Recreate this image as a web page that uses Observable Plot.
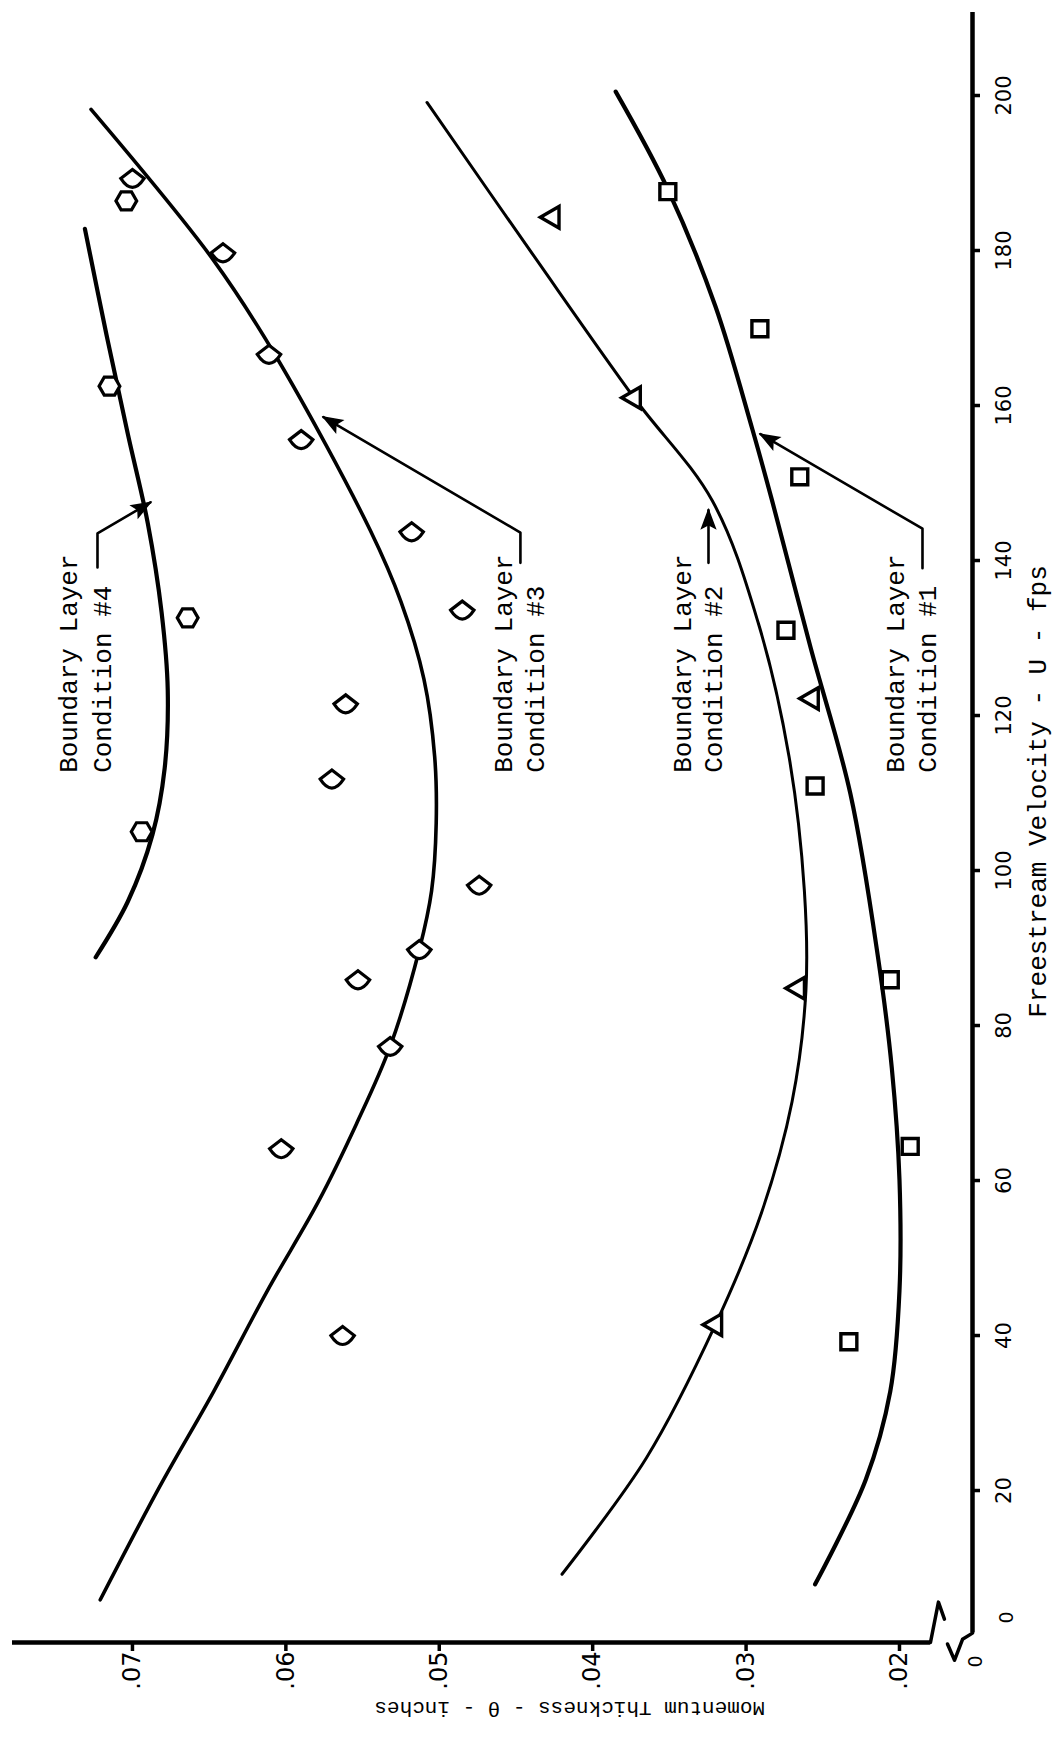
<!DOCTYPE html>
<html>
<head>
<meta charset="utf-8">
<script src="https://cdn.jsdelivr.net/npm/d3@7"></script>
<script src="https://cdn.jsdelivr.net/npm/@observablehq/plot@0.6"></script>
<style>
html,body{margin:0;padding:0;background:#fff;}
#chart svg{display:block;}
</style>
</head>
<body>
<div id="chart"></div>
<script>
// ---------------- data ----------------
const velocityTicks = [0, 20, 40, 60, 80, 100, 120, 140, 160, 180, 200];
const velocityTickLabels = ["0", "20", "40", "60", "80", "100", "120", "140", "160", "180", "200"];
const thicknessTicks = [0.02, 0.03, 0.04, 0.05, 0.06, 0.07];
const thicknessTickLabels = [".02", ".03", ".04", ".05", ".06", ".07"];

// measured points (U in fps, theta in inches)
const cond1U = [187.6, 169.9, 150.8, 131.0, 110.9, 85.9, 64.4, 39.2];
const cond1Theta = [0.0351, 0.0291, 0.0265, 0.0274, 0.0255, 0.0206, 0.0193, 0.0233];
const cond2U = [184.3, 161.0, 122.2, 84.8, 41.4];
const cond2Theta = [0.0426, 0.0373, 0.0257, 0.0266, 0.0320];
const cond3U = [189.3, 179.7, 166.6, 155.6, 143.7, 133.6, 121.5, 111.8, 98.1, 89.8, 85.9, 77.3, 64.1, 40.0];
const cond3Theta = [0.0700, 0.0641, 0.0611, 0.0590, 0.0518, 0.0485, 0.0561, 0.0570, 0.0474, 0.0513, 0.0553, 0.0532, 0.0603, 0.0563];
const cond4U = [186.4, 162.5, 132.6, 105.0];
const cond4Theta = [0.0704, 0.0715, 0.0664, 0.0694];

// faired curves
const fit1U = [200.5, 187.9, 172.8, 157.0, 147.7, 128.8, 109.9, 88.8, 74.5, 60.1, 45.8, 32.8, 21.4, 7.9];
const fit1Theta = [0.0385, 0.0351, 0.0320, 0.0296, 0.0283, 0.0258, 0.0232, 0.0214, 0.0205, 0.0200, 0.0200, 0.0206, 0.0222, 0.0255];
const fit2U = [199.1, 179.2, 161.0, 147.7, 131.9, 114.7, 97.4, 84.5, 70.2, 55.8, 41.4, 24.2, 9.2];
const fit2Theta = [0.0508, 0.0438, 0.0373, 0.0322, 0.0292, 0.0272, 0.0262, 0.0261, 0.0270, 0.0290, 0.0320, 0.0365, 0.0420];
const fit3U = [198.2, 178.7, 166.2, 143.9, 134.7, 124.7, 114.7, 106.1, 97.4, 89.8, 77.3, 67.3, 57.2, 45.8, 32.8, 20.6, 5.9];
const fit3Theta = [0.0727, 0.0647, 0.0606, 0.0545, 0.0525, 0.0510, 0.0503, 0.0502, 0.0505, 0.0513, 0.0532, 0.0554, 0.0579, 0.0612, 0.0647, 0.0682, 0.0721];
const fit4U = [182.8, 169.2, 156.3, 144.8, 133.3, 123.3, 113.2, 104.6, 96.0, 88.8];
const fit4Theta = [0.0731, 0.0717, 0.0703, 0.0690, 0.0681, 0.0677, 0.0679, 0.0687, 0.0703, 0.0724];

// annotations
const labelLine1 = ["Boundary Layer", "Boundary Layer", "Boundary Layer", "Boundary Layer"];
const labelLine2 = ["Condition #1", "Condition #2", "Condition #3", "Condition #4"];
const labelLine1Theta = [0.02026, 0.03415, 0.04581, 0.07417];
const labelLine2Theta = [0.01818, 0.03212, 0.04373, 0.07196];
const labelStartU = [112.6, 112.6, 112.6, 112.6];
// leader polylines (theta, U), arrow head at the last point
const leader1Theta = [0.01850, 0.01850, 0.02906], leader1U = [139.0, 144.1, 156.3];
const leader2Theta = [0.03245, 0.03245], leader2U = [139.7, 146.5];
const leader3Theta = [0.04471, 0.04471, 0.05755], leader3U = [139.7, 143.6, 158.5];
const leader4Theta = [0.07228, 0.07228, 0.06883], leader4U = [139.1, 143.5, 147.5];

const xTitle = "Freestream Velocity - U - fps";
const yTitle = "Momentum Thickness - \u03B8 - inches";

// axis break glyphs (theta, U)
const breakHTheta = [0.01798, 0.01746, 0.01707], breakHU = [0.39, 5.6, 3.4];
const breakVTheta = [0.01524, 0.01589, 0.01641, 0.01687], breakVU = [1.6, 0.8, -1.9, 0.2];

// ---------------- chart ----------------
const W = 1059, H = 1745;
const mL = 12, mR = 87, mT = 12, mB = 103;
const thetaLeft = 0.07782, thetaAxis = 0.01524;
const uBottom = 0.39, uTop = 210.71;
const pxTheta = (thetaLeft - thetaAxis) / (W - mL - mR);
const pxU = (uTop - uBottom) / (H - mT - mB);

const pts = (U, T) => U.map((u, i) => ({U: u, T: T[i]}));

const shield = {
  draw(ctx, size) {
    const r = Math.sqrt(size / Math.PI);
    ctx.moveTo(-1.3 * r, 0);
    ctx.lineTo(0, -r);
    ctx.lineTo(1.3 * r, 0);
    ctx.quadraticCurveTo(0, 2 * r, -1.3 * r, 0);
    ctx.closePath();
  }
};
const arrowHead = {
  draw(ctx, size) {
    const r = Math.sqrt(size / Math.PI);
    ctx.moveTo(0, 0);
    ctx.lineTo(-2 * r, -0.75 * r);
    ctx.lineTo(-1.6 * r, 0);
    ctx.lineTo(-2 * r, 0.75 * r);
    ctx.closePath();
  }
};

const mono = "Liberation Mono, DejaVu Sans Mono, monospace";
const sans = "DejaVu Sans, Liberation Sans, sans-serif";

const labelRows = [];
labelLine1.forEach((t, i) => {
  labelRows.push({T: labelLine1Theta[i], U: labelStartU[i], text: t});
  labelRows.push({T: labelLine2Theta[i], U: labelStartU[i], text: labelLine2[i]});
});

const leaders = [
  [leader1Theta, leader1U], [leader2Theta, leader2U], [leader3Theta, leader3U], [leader4Theta, leader4U]
];
const leaderMarks = [];
const heads = [];
leaders.forEach(([T, U]) => {
  leaderMarks.push(Plot.line(pts(U, T), {x: "T", y: "U", strokeWidth: 2.6}));
  const n = T.length;
  const dxp = (T[n - 2] - T[n - 1]) / pxTheta;   // reversed x scale
  const dyp = (U[n - 2] - U[n - 1]) / pxU;       // screen y grows downward
  heads.push({T: T[n - 1], U: U[n - 1], angle: Math.atan2(dyp, dxp) * 180 / Math.PI});
});

const chart = Plot.plot({
  width: W, height: H,
  marginLeft: mL, marginRight: mR, marginTop: mT, marginBottom: mB,
  x: {domain: [thetaLeft, thetaAxis], axis: null},
  y: {domain: [uBottom, uTop], axis: null},
  style: {background: "#fff", color: "#000"},
  marks: [
    // axes
    Plot.ruleX([thetaAxis], {y1: 1.6, y2: uTop, strokeWidth: 4.5}),
    Plot.ruleY([uBottom], {x1: thetaLeft, x2: breakHTheta[0], strokeWidth: 4.5}),
    Plot.line(pts(breakHU, breakHTheta), {x: "T", y: "U", strokeWidth: 3.5}),
    Plot.line(pts(breakVU, breakVTheta), {x: "T", y: "U", strokeWidth: 3.5}),
    Plot.ruleY(velocityTicks.slice(1), {y: d => d, x1: thetaAxis, x2: thetaAxis - 8 * pxTheta, strokeWidth: 3.5}),
    Plot.ruleX(thicknessTicks, {x: d => d, y1: uBottom, y2: uBottom - 9 * pxU, strokeWidth: 3.5}),
    Plot.text(velocityTicks.slice(1), {y: d => d, frameAnchor: "right", text: (d, i) => velocityTickLabels[i + 1],
      rotate: -90, textAnchor: "middle", lineAnchor: "top", dx: 24, fontSize: 21, fontFamily: sans}),
    Plot.text(velocityTicks.slice(0, 1), {y: d => d, frameAnchor: "right", text: (d, i) => velocityTickLabels[i],
      rotate: -90, textAnchor: "middle", lineAnchor: "top", dx: 27, dy: -28, fontSize: 19, fontFamily: sans}),
    Plot.text(thicknessTicks, {x: d => d, frameAnchor: "bottom", text: (d, i) => thicknessTickLabels[i],
      rotate: -90, textAnchor: "end", lineAnchor: "middle", dy: 9, fontSize: 24, fontFamily: sans}),
    Plot.text(["0"], {frameAnchor: "bottom-right", text: d => d, rotate: -90, textAnchor: "middle", dx: 9, dy: 19, fontSize: 19, fontFamily: sans}),
    Plot.text([xTitle], {y: 139.4, frameAnchor: "right", text: d => d, rotate: -90, textAnchor: "end", lineAnchor: "middle", dx: 65, fontSize: 26, fontFamily: mono}),
    Plot.text([yTitle], {x: 0.0415, frameAnchor: "bottom", text: d => d, rotate: 180, textAnchor: "middle", lineAnchor: "middle", dy: 66, fontSize: 21, fontFamily: mono}),
    // fitted curves
    Plot.line(pts(fit1U, fit1Theta), {x: "T", y: "U", curve: "catmull-rom", strokeWidth: 4.2}),
    Plot.line(pts(fit2U, fit2Theta), {x: "T", y: "U", curve: "catmull-rom", strokeWidth: 3}),
    Plot.line(pts(fit3U, fit3Theta), {x: "T", y: "U", curve: "catmull-rom", strokeWidth: 3.6}),
    Plot.line(pts(fit4U, fit4Theta), {x: "T", y: "U", curve: "catmull-rom", strokeWidth: 4.2}),
    // data points
    Plot.dot(pts(cond1U, cond1Theta), {x: "T", y: "U", symbol: "square", r: 9, stroke: "#000", fill: "#fff", strokeWidth: 3.4}),
    Plot.dot(pts(cond2U, cond2Theta), {x: "T", y: "U", symbol: "triangle", r: 8, rotate: -90, stroke: "#000", fill: "#fff", strokeWidth: 3.4}),
    Plot.dot(pts(cond3U, cond3Theta), {x: "T", y: "U", symbol: shield, r: 9, stroke: "#000", fill: "#fff", strokeWidth: 3.2}),
    Plot.dot(pts(cond4U, cond4Theta), {x: "T", y: "U", symbol: "hexagon", r: 9, rotate: 90, stroke: "#000", fill: "#fff", strokeWidth: 3.2}),
    // annotations
    ...leaderMarks,
    Plot.dot(heads, {x: "T", y: "U", symbol: arrowHead, r: 9, rotate: "angle", fill: "#000", stroke: "#000", strokeWidth: 1.5}),
    Plot.text(labelRows, {x: "T", y: "U", text: "text", rotate: -90, textAnchor: "start", lineAnchor: "middle", fontSize: 26, fontFamily: mono})
  ]
});
document.getElementById("chart").appendChild(chart);
</script>
</body>
</html>
